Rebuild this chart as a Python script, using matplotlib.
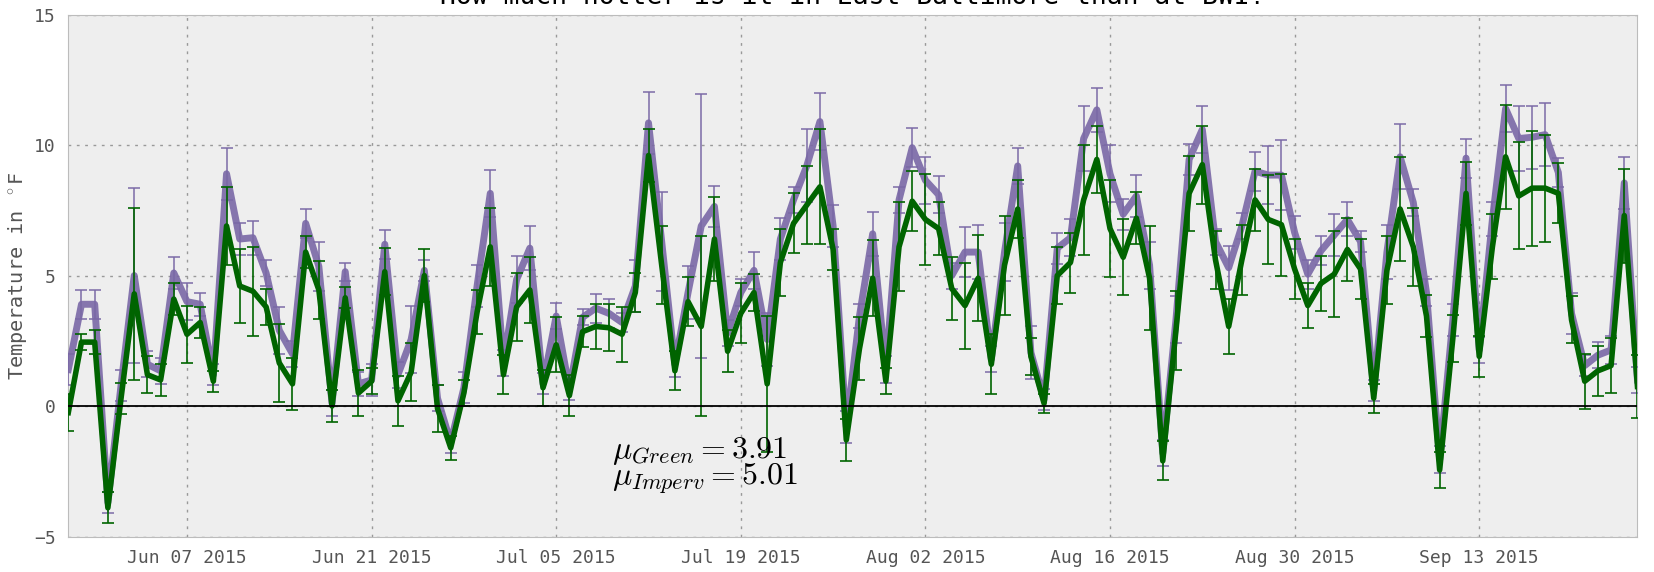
import pandas as pd
import matplotlib
matplotlib.use("Agg")
import matplotlib.pyplot as plt
import matplotlib.dates as mdates

plt.rcParams["mathtext.fontset"] = "cm"
plt.rcParams["font.family"] = "DejaVu Sans Mono"

start_day = "2015-05-29"
n_days = 120
tick_days = ["2015-06-07", "2015-06-21", "2015-07-05", "2015-07-19",
             "2015-08-02", "2015-08-16", "2015-08-30", "2015-09-13"]

# daily mean difference vs BWI, impervious sites (deg F)
imperv = [1.4, 3.9, 3.9, -3.7, 0.8, 5.0, 1.6, 1.35, 5.1, 4.0,
          3.9, 1.2, 8.9, 6.4, 6.45, 5.1, 2.9, 2.0, 7.0, 5.35,
          0.1, 5.15, 0.85, 1.0, 6.2, 1.2, 2.55, 5.2, 0.3, -1.4,
          0.7, 4.6, 8.15, 1.65, 4.85, 6.05, 0.85, 3.45, 0.65, 3.4,
          3.75, 3.55, 3.2, 4.6, 10.85, 6.3, 1.6, 4.35, 6.9, 7.65,
          2.8, 4.35, 5.2, 2.55, 6.4, 7.9, 9.2, 10.9, 6.9, -0.8,
          3.45, 6.6, 1.4, 7.9, 9.9, 8.65, 8.1, 5.0, 5.9, 5.9,
          1.8, 5.9, 9.2, 2.05, 0.25, 6.05, 6.45, 10.25, 11.35, 8.9,
          7.35, 8.05, 5.4, -1.8, 3.3, 9.45, 10.6, 6.3, 5.3, 6.9,
          9.0, 8.85, 8.85, 6.65, 5.05, 5.95, 6.55, 7.15, 6.3, 0.6,
          5.9, 9.55, 7.8, 4.35, -2.05, 3.3, 9.5, 2.15, 7.15, 11.4,
          10.25, 10.3, 10.4, 8.95, 3.55, 1.55, 1.95, 2.15, 8.55, 1.0]
imperv_err = [0.6, 0.55, 0.55, 0.4, 0.6, 3.35, 0.5, 0.5, 0.6, 0.7,
              0.45, 0.4, 1.0, 0.6, 0.65, 0.5, 0.9, 0.5, 0.55, 0.95,
              0.5, 0.35, 0.45, 0.6, 0.55, 0.5, 1.3, 0.4, 0.5, 0.4,
              0.6, 0.8, 0.9, 0.5, 0.9, 0.85, 0.4, 0.5, 0.4, 0.3,
              0.55, 0.55, 0.35, 1.0, 1.2, 1.9, 0.5, 1.0, 5.05, 0.8,
              0.5, 0.5, 0.7, 1.0, 0.8, 0.5, 1.4, 1.1, 0.8, 0.6,
              0.45, 0.85, 0.5, 0.5, 0.75, 0.9, 0.7, 0.5, 0.95, 1.05,
              0.5, 1.1, 0.7, 1.0, 0.4, 0.6, 0.7, 1.25, 0.85, 1.1,
              0.6, 0.8, 0.9, 0.5, 0.9, 0.6, 0.9, 0.5, 0.85, 0.5,
              0.75, 1.1, 1.35, 0.65, 0.55, 0.55, 0.8, 0.65, 0.4, 0.4,
              1.05, 1.25, 0.5, 0.5, 0.5, 0.6, 0.75, 0.5, 0.65, 0.9,
              1.25, 1.2, 1.2, 0.55, 0.8, 0.4, 0.5, 0.55, 1.0, 0.5]

# daily mean difference vs BWI, green sites (deg F)
green = [-0.25, 2.45, 2.45, -3.9, 0.3, 4.3, 1.2, 1.0, 4.1, 2.75,
         3.2, 0.95, 6.9, 4.6, 4.4, 3.8, 1.65, 0.85, 5.9, 4.45,
         0.0, 4.15, 0.5, 0.95, 5.15, 0.2, 1.3, 5.0, -0.1, -1.6,
         0.5, 3.6, 6.1, 1.2, 3.8, 4.45, 0.7, 2.35, 0.4, 2.85,
         3.05, 3.0, 2.75, 4.35, 9.6, 5.4, 1.35, 4.0, 3.05, 6.4,
         2.1, 3.55, 4.35, 0.85, 5.5, 7.0, 7.7, 8.4, 6.0, -1.3,
         2.2, 4.9, 0.95, 6.1, 7.85, 7.15, 6.8, 4.5, 3.85, 4.9,
         1.6, 5.4, 7.55, 1.9, 0.1, 5.0, 5.5, 7.9, 9.45, 6.8,
         5.7, 7.2, 4.9, -2.1, 2.9, 8.15, 9.25, 5.6, 3.05, 5.6,
         7.9, 7.15, 6.95, 5.25, 3.85, 4.7, 5.05, 6.0, 5.25, 0.3,
         5.2, 7.55, 6.1, 3.45, -2.45, 2.6, 8.15, 1.9, 6.1, 9.55,
         8.05, 8.35, 8.35, 8.15, 3.3, 0.95, 1.35, 1.55, 7.3, 0.75]
green_err = [0.7, 0.3, 0.45, 0.6, 0.6, 3.3, 0.7, 0.6, 0.6, 1.1,
             0.6, 0.4, 1.5, 1.4, 1.7, 0.7, 1.5, 1.0, 0.6, 1.1,
             0.6, 0.4, 0.9, 0.5, 0.9, 0.95, 1.1, 1.0, 0.9, 0.45,
             0.5, 0.85, 1.5, 0.75, 1.3, 1.25, 0.7, 1.05, 0.8, 0.6,
             0.85, 0.9, 1.05, 0.75, 1.0, 1.5, 0.75, 0.95, 3.45, 1.6,
             0.8, 1.15, 0.7, 2.6, 1.3, 1.15, 1.5, 2.2, 0.8, 0.8,
             1.2, 1.45, 0.5, 1.7, 1.15, 1.75, 1.0, 1.2, 1.65, 1.65,
             1.15, 1.9, 1.1, 0.7, 0.35, 1.1, 1.15, 2.1, 1.3, 1.85,
             1.45, 1.0, 2.0, 0.75, 1.5, 1.45, 1.5, 1.1, 1.05, 1.35,
             1.2, 1.7, 1.95, 1.15, 0.85, 1.05, 1.65, 1.2, 1.15, 0.55,
             1.3, 2.0, 1.5, 0.8, 0.7, 0.9, 1.2, 0.8, 1.25, 2.0,
             2.05, 2.2, 2.05, 1.15, 0.9, 1.05, 0.95, 1.05, 1.8, 1.2]

mu_green = 3.91
mu_imperv = 5.01

days = pd.date_range(start_day, periods=n_days, freq="D")

fig = plt.figure(figsize=(16.54, 5.72), dpi=100)
ax = fig.add_axes([0.0413, 0.062, 0.9487, 0.9125])
ax.set_facecolor("#eeeeee")
for s in ax.spines.values():
    s.set_color("#bcbcbc")

ax.errorbar(days, imperv, yerr=imperv_err, color="#7A68A6", lw=5,
            elinewidth=1.2, capsize=4, capthick=1.2, alpha=0.9, zorder=3)
ax.errorbar(days, green, yerr=green_err, color="#006400", lw=4,
            elinewidth=1.2, capsize=4, capthick=1.2, zorder=4)
ax.axhline(0, color="black", lw=1.3, zorder=5)

ax.set_xlim(days[0], days[-1])
ax.set_ylim(-5, 15)
ax.set_yticks([-5, 0, 5, 10, 15])
ax.set_xticks(pd.to_datetime(tick_days))
ax.xaxis.set_major_formatter(mdates.DateFormatter("%b %d %Y"))
ax.grid(True, color="#999999", linestyle=(0, (2, 4)), lw=1)
ax.set_axisbelow(True)
ax.tick_params(length=0, labelsize=13, labelcolor="#555555", pad=9)
ax.set_ylabel("Temperature in $^\\circ$F", fontsize=14.5, color="#555555",
              labelpad=4)

ax.text(0.3464, 0.150, "$\\mu_{Green}=%.2f$" % mu_green, transform=ax.transAxes,
        fontsize=23, va="baseline", zorder=6)
ax.text(0.3464, 0.100, "$\\mu_{Imperv}=%.2f$" % mu_imperv, transform=ax.transAxes,
        fontsize=23, va="baseline", zorder=6)

fig.text(0.5155, 1 - 4.5 / 572, "How much hotter is it in East Baltimore than at BWI?",
         ha="center", va="baseline", fontsize=19)

plt.savefig("out.png", dpi=100)
